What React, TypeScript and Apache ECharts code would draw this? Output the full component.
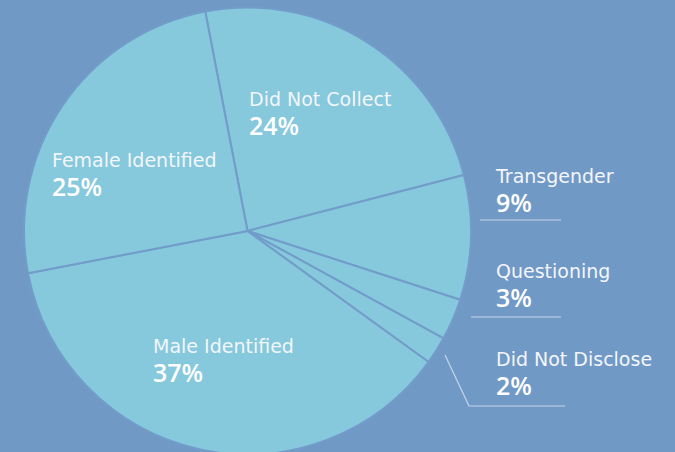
import React, { useEffect, useRef } from "react";
import * as echarts from "echarts";

const categories = ["Did Not Collect", "Transgender", "Questioning", "Did Not Disclose", "Male Identified", "Female Identified"];
const values = [24, 9, 3, 2, 37, 25];

// label placement (left/top of the text block) and guide lines, per slice
const labelPos: { x: number; y: number; line?: number[][] }[] = [
  { x: 249, y: 86 },
  { x: 496, y: 163, line: [[480, 220], [520, 220], [561, 220]] },
  { x: 496, y: 258, line: [[471, 317], [516, 317], [561, 317]] },
  { x: 496, y: 346, line: [[445, 355], [469, 406], [565, 406]] },
  { x: 153, y: 333 },
  { x: 52, y: 147 },
];

const BG = "#7199c6";
const PIE = "#86c8dc";
const TXT = "#f3f6fa";
const FONT = "DejaVu Sans";

export default function App() {
  const ref = useRef<HTMLDivElement>(null);
  useEffect(() => {
    if (!ref.current) return;
    const chart = echarts.init(ref.current, null, { renderer: "svg" });
    chart.setOption({
      animation: false,
      backgroundColor: BG,
      series: [
        {
          type: "pie",
          center: [247.5, 231],
          radius: 223.5,
          startAngle: 100.9,
          clockwise: true,
          avoidLabelOverlap: false,
          itemStyle: { color: PIE, borderColor: "#729cc9", borderWidth: 2 },
          emphasis: { disabled: true },
          label: {
            show: true,
            position: "inside",
            formatter: (p: any) => `{n|${p.name}}\n{v|${p.value}%}`,
            rich: {
              n: { fontFamily: FONT, fontSize: 19, color: TXT, lineHeight: 25, align: "left" },
              v: { fontFamily: "Open Sans", fontSize: 25, fontWeight: 600, color: "#ffffff", lineHeight: 27, align: "left" },
            },
          },
          labelLine: { show: false },
          labelLayout: (params: any) => {
            const lp = labelPos[params.dataIndex];
            const o: any = { x: lp.x, y: lp.y, align: "left", verticalAlign: "top" };
            if (lp.line) o.labelLinePoints = lp.line;
            return o;
          },
          data: categories.map((c, i) => ({
            name: c,
            value: values[i],
            label: { position: labelPos[i].line ? "outside" : "inside" },
            labelLine: labelPos[i].line
              ? { show: true, length: 10, length2: 10, lineStyle: { color: "#c6d6ea", width: 1.2 } }
              : { show: false },
          })),
        },
      ],
    });
    return () => chart.dispose();
  }, []);
  return <div ref={ref} style={{ position: "fixed", left: 0, top: 0, width: 675, height: 452 }} />;
}
